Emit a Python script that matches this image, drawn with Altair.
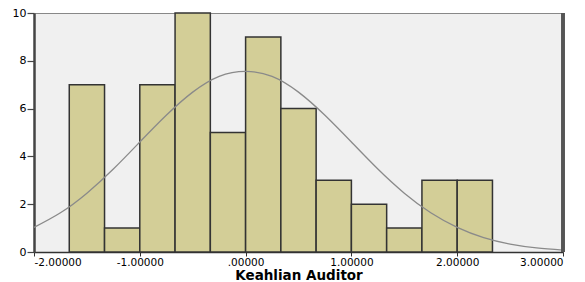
import altair as alt
import pandas as pd

# Histogram bins (standardized Keahlian Auditor) and frequencies
bin_start = [-1.6667, -1.3333, -1.0, -0.6667, -0.3333, 0.0, 0.3333, 0.6667, 1.0, 1.3333, 1.6667, 2.0]
bin_end = [-1.3333, -1.0, -0.6667, -0.3333, 0.0, 0.3333, 0.6667, 1.0, 1.3333, 1.6667, 2.0, 2.3333]
counts = [7, 1, 7, 10, 5, 9, 6, 3, 2, 1, 3, 3]

# Normal curve
curve_x = [-2.0, -1.75, -1.5, -1.25, -1.0, -0.75, -0.5, -0.25, 0.0, 0.25, 0.5, 0.75,
           1.0, 1.25, 1.5, 1.75, 2.0, 2.25, 2.5, 2.75, 3.0]
curve_y = [1.03, 1.64, 2.46, 3.47, 4.60, 5.72, 6.69, 7.35, 7.56, 7.35, 6.69, 5.72,
           4.60, 3.47, 2.46, 1.64, 1.03, 0.60, 0.33, 0.17, 0.08]

x_ticks = [-2, -1, 0, 1, 2, 3]

bars_df = pd.DataFrame({"start": bin_start, "end": bin_end, "count": counts})
curve_df = pd.DataFrame({"x": curve_x, "y": curve_y})

W, H = 529, 239

x_scale = alt.Scale(domain=[-2, 3], nice=False, zero=False)
y_scale = alt.Scale(domain=[0, 10], nice=False)

label_expr = ("abs(datum.value) < 1e-9 ? '.00000' : "
              "(datum.value < 0 ? '-' + format(-datum.value, '.5f') : format(datum.value, '.5f'))")

bars = alt.Chart(bars_df).mark_rect(
    fill="#d3ce97", stroke="#333333", strokeWidth=1.5
).encode(
    x=alt.X("start:Q", scale=x_scale, title="Keahlian Auditor",
            axis=alt.Axis(values=x_ticks, labelExpr=label_expr, tickSize=4,
                          labelFontSize=10.5, labelPadding=1, titlePadding=1,
                          domainColor="#333333", domainWidth=1.5,
                          tickColor="#333333", grid=False)),
    x2="end:Q",
    y=alt.Y("count:Q", scale=y_scale, title=None,
            axis=alt.Axis(values=[0, 2, 4, 6, 8, 10], tickSize=7, labelPadding=1,
                          domainColor="#444444", domainWidth=2.5,
                          tickColor="#444444", tickWidth=1.2, grid=False)),
    y2=alt.datum(0),
)

curve = alt.Chart(curve_df).mark_line(
    color="#8a8a8a", strokeWidth=1.3, interpolate="natural"
).encode(
    x=alt.X("x:Q", scale=x_scale),
    y=alt.Y("y:Q", scale=y_scale),
)

right_border = alt.Chart(bars_df).mark_rule(color="#555555", strokeWidth=2.5).encode(
    x=alt.value(W), y=alt.value(0), y2=alt.value(H)
)

chart = alt.layer(bars, curve, right_border).properties(
    width=W, height=H,
    autosize=alt.AutoSizeParams(type="none"),
    padding={"left": 26, "top": 5, "right": 14, "bottom": 30},
).configure_view(
    fill="#f0f0f0", stroke="#888888", strokeWidth=1
).configure_axis(
    labelFont="DejaVu Sans", labelFontSize=11, labelColor="#000000",
    titleFont="DejaVu Sans", titleFontSize=13.5, titleFontWeight="bold", titleColor="#000000",
)

chart.save("out.html", embed_options={"renderer": "svg", "actions": False})
